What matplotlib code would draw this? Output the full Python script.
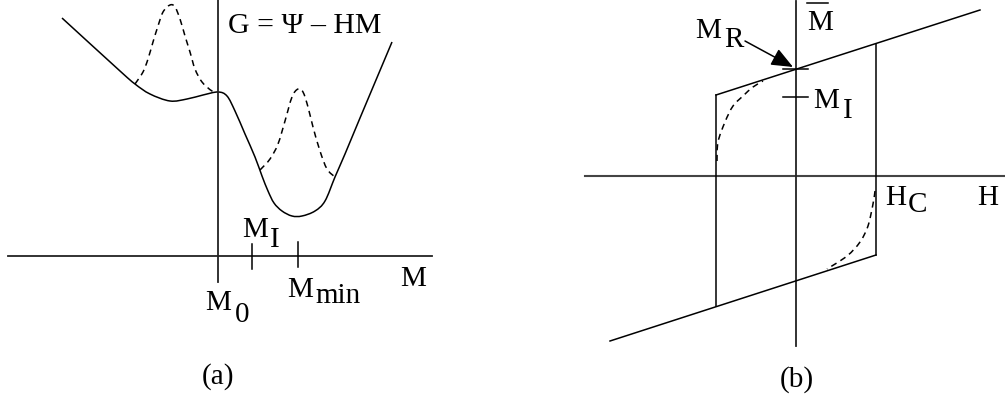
import matplotlib
matplotlib.use('Agg')
import matplotlib.pyplot as plt
from matplotlib.path import Path
from matplotlib.patches import PathPatch, FancyArrowPatch

plt.rcParams['font.family'] = ['Liberation Serif', 'DejaVu Serif']

# ---------------- Panel (a): free energy G(M) ----------------
g_M = [-156, -98, -83, -68, -48, -31, -15, 0, 9, 17, 27, 37, 44, 50, 56, 64, 74, 84,
       97, 107, 117, 127, 142, 174]
g_G = [238, 185, 172, 162, 155, 157, 161, 164, 160, 145, 122, 99, 80, 65, 53, 45, 40, 40,
       45, 55, 79, 102, 138, 214]

bump1_M = [-83, -75, -70, -65, -60, -55, -48, -43, -38, -33, -28, -23, -16, -6, 0]
bump1_G = [172, 184, 197, 214, 230, 244, 251, 249, 237, 220, 204, 187, 174, 165, 164]

bump2_M = [42, 52, 60, 67, 74, 80, 85, 90, 95, 102, 109, 117]
bump2_G = [86, 97, 112, 135, 159, 167, 164, 149, 129, 105, 87, 79]

a_haxis_M = [-210, 214]
a_vaxis_G = [257, -26]
tick_MI = 34
tick_Mmin = 80

# ---------------- Panel (b): hysteresis loop ----------------
upper_H = [-80, 184]
upper_M = [81, 166]
lower_H = [-186, 80]
lower_M = [-165, -79]
left_H, left_M = [-80, -80], [81, -130]
right_H, right_M = [80, 80], [-79, 132]

dash_ul_H = [-79, -78, -71, -63, -53, -43, -33]
dash_ul_M = [15, 34, 54, 70, 80, 89, 95]
dash_lr_H = [79, 77, 72, 64, 51, 31]
dash_lr_M = [-15, -28, -50, -66, -80, -93]

b_haxis_H = [-211, 209]
b_vaxis_M = [175, -170]
M_R = 107
M_I = 79

FS = 21
LW = 1.1


def smooth(xs, ys):
    """Cubic Bezier path through the given points (Catmull-Rom tangents)."""
    n = len(xs)
    P = list(zip(xs, ys))
    verts = [P[0]]
    codes = [Path.MOVETO]
    for i in range(n - 1):
        p0 = P[i - 1] if i > 0 else P[i]
        p1, p2 = P[i], P[i + 1]
        p3 = P[i + 2] if i + 2 < n else P[i + 1]
        c1 = (p1[0] + (p2[0] - p0[0]) / 6, p1[1] + (p2[1] - p0[1]) / 6)
        c2 = (p2[0] - (p3[0] - p1[0]) / 6, p2[1] - (p3[1] - p1[1]) / 6)
        verts += [c1, c2, p2]
        codes += [Path.CURVE4] * 3
    return Path(verts, codes)


fig = plt.figure(figsize=(10.05, 4.02), dpi=100)
ax_a = fig.add_axes([0, 0, 440 / 1005, 1])
ax_a.set_xlim(-218, 222)
ax_a.set_ylim(-145, 257)
ax_b = fig.add_axes([570 / 1005, 0, 435 / 1005, 1])
ax_b.set_xlim(-226, 209)
ax_b.set_ylim(-225, 177)
for ax in (ax_a, ax_b):
    ax.axis('off')

# ---- (a)
ax_a.plot(a_haxis_M, [0, 0], color='#222222', lw=1.3)
ax_a.plot([0, 0], a_vaxis_G, color='#222222', lw=1.3)
ax_a.add_patch(PathPatch(smooth(g_M, g_G), fill=False, color='black', lw=LW))
for bm, bg in ((bump1_M, bump1_G), (bump2_M, bump2_G)):
    ax_a.add_patch(PathPatch(smooth(bm, bg), fill=False, color='black', lw=LW,
                             linestyle=(0, (4, 3))))
ax_a.plot([tick_MI, tick_MI], [12, -13], color='black', lw=LW)
ax_a.plot([tick_Mmin, tick_Mmin], [14, -11], color='black', lw=LW)

ax_a.text(10, 224, 'G = Ψ – HM', fontsize=21.5, ha='left', va='baseline')
ax_a.text(182, -29, 'M', fontsize=FS, ha='left', va='baseline')
ax_a.text(-13, -53, 'M', fontsize=FS, ha='left', va='baseline')
ax_a.text(17, -65, '0', fontsize=FS, ha='left', va='baseline')
ax_a.text(69, -40, 'M', fontsize=FS, ha='left', va='baseline')
ax_a.text(97, -46, 'min', fontsize=FS, ha='left', va='baseline')
ax_a.text(24, 20, 'M', fontsize=FS, ha='left', va='baseline')
ax_a.text(52, 10, 'I', fontsize=FS, ha='left', va='baseline')
ax_a.text(0, -120, '(a)', fontsize=FS, ha='center', va='center')

# ---- (b)
ax_b.plot(b_haxis_H, [0, 0], color='#444444', lw=1.5)
ax_b.plot([0, 0], b_vaxis_M, color='#222222', lw=1.3)
ax_b.plot(upper_H, upper_M, color='black', lw=LW)
ax_b.plot(lower_H, lower_M, color='black', lw=LW)
ax_b.plot(left_H, left_M, color='black', lw=LW)
ax_b.plot(right_H, right_M, color='black', lw=LW)
for dh, dm in ((dash_ul_H, dash_ul_M), (dash_lr_H, dash_lr_M)):
    ax_b.add_patch(PathPatch(smooth(dh, dm), fill=False, color='black', lw=LW,
                             linestyle=(0, (4, 3))))
ax_b.plot([-13, 12], [M_R, M_R], color='black', lw=LW)
ax_b.plot([-13, 12], [M_I, M_I], color='black', lw=LW)
ax_b.add_patch(FancyArrowPatch((-51, 135), (-3, M_R + 2),
                               arrowstyle='-|>,head_length=0.6,head_width=0.25',
                               mutation_scale=22, color='black', lw=LW,
                               shrinkA=0, shrinkB=0))

ax_b.text(-101, 139, 'M', fontsize=FS, ha='left', va='baseline')
ax_b.text(-72, 130, 'R', fontsize=FS, ha='left', va='baseline')
ax_b.text(11, 147, 'M', fontsize=FS, ha='left', va='baseline')
ax_b.plot([11, 32], [173, 173], color='black', lw=LW)
ax_b.text(17, 69, 'M', fontsize=FS, ha='left', va='baseline')
ax_b.text(47, 59, 'I', fontsize=FS, ha='left', va='baseline')
ax_b.text(89, -28, 'H', fontsize=FS, ha='left', va='baseline')
ax_b.text(112, -35, 'C', fontsize=FS, ha='left', va='baseline')
ax_b.text(181, -28, 'H', fontsize=FS, ha='left', va='baseline')
ax_b.text(1, -203, '(b)', fontsize=FS, ha='center', va='center')

fig.savefig('out.png', dpi=100)
